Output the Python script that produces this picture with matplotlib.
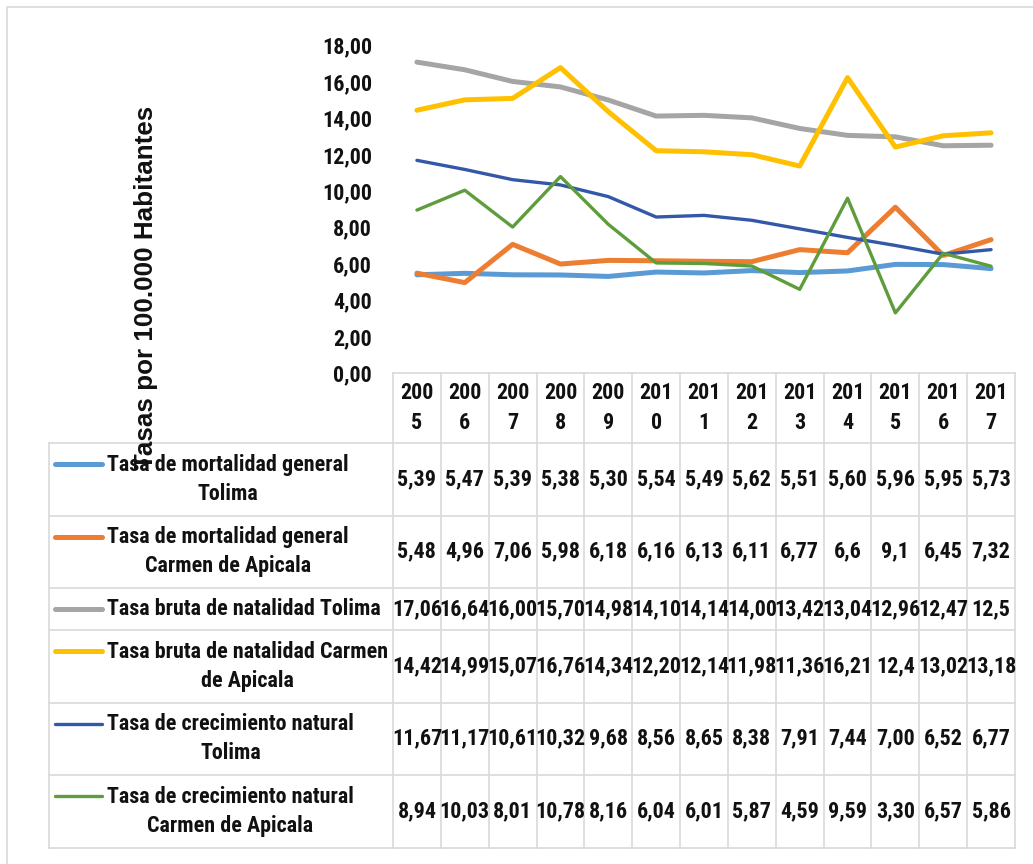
import matplotlib
matplotlib.use("Agg")
import os
import matplotlib.pyplot as plt
from matplotlib.patches import Rectangle
from matplotlib import font_manager as fm

years = ["2005", "2006", "2007", "2008", "2009", "2010", "2011",
         "2012", "2013", "2014", "2015", "2016", "2017"]

series_names = [
    "Tasa de mortalidad general\nTolima",
    "Tasa de mortalidad general\nCarmen de Apicala",
    "Tasa bruta de natalidad Tolima",
    "Tasa bruta de natalidad Carmen\nde Apicala",
    "Tasa de crecimiento natural\nTolima",
    "Tasa de crecimiento natural\nCarmen de Apicala",
]

mort_tolima = [5.39, 5.47, 5.39, 5.38, 5.30, 5.54, 5.49, 5.62, 5.51, 5.60, 5.96, 5.95, 5.73]
mort_carmen = [5.48, 4.96, 7.06, 5.98, 6.18, 6.16, 6.13, 6.11, 6.77, 6.6, 9.1, 6.45, 7.32]
nat_tolima = [17.06, 16.64, 16.00, 15.70, 14.98, 14.10, 14.14, 14.00, 13.42, 13.04, 12.96, 12.47, 12.5]
nat_carmen = [14.42, 14.99, 15.07, 16.76, 14.34, 12.20, 12.14, 11.98, 11.36, 16.21, 12.4, 13.02, 13.18]
crec_tolima = [11.67, 11.17, 10.61, 10.32, 9.68, 8.56, 8.65, 8.38, 7.91, 7.44, 7.00, 6.52, 6.77]
crec_carmen = [8.94, 10.03, 8.01, 10.78, 8.16, 6.04, 6.01, 5.87, 4.59, 9.59, 3.30, 6.57, 5.86]

# table texts as shown (Excel formatting)
table_text = [
    ["5,39", "5,47", "5,39", "5,38", "5,30", "5,54", "5,49", "5,62", "5,51", "5,60", "5,96", "5,95", "5,73"],
    ["5,48", "4,96", "7,06", "5,98", "6,18", "6,16", "6,13", "6,11", "6,77", "6,6", "9,1", "6,45", "7,32"],
    ["17,06", "16,64", "16,00", "15,70", "14,98", "14,10", "14,14", "14,00", "13,42", "13,04", "12,96", "12,47", "12,5"],
    ["14,42", "14,99", "15,07", "16,76", "14,34", "12,20", "12,14", "11,98", "11,36", "16,21", "12,4", "13,02", "13,18"],
    ["11,67", "11,17", "10,61", "10,32", "9,68", "8,56", "8,65", "8,38", "7,91", "7,44", "7,00", "6,52", "6,77"],
    ["8,94", "10,03", "8,01", "10,78", "8,16", "6,04", "6,01", "5,87", "4,59", "9,59", "3,30", "6,57", "5,86"],
]

y_ticks = [0, 2, 4, 6, 8, 10, 12, 14, 16, 18]
y_label = "Tasas por 100.000 Habitantes"

colors = ["#5B9BD5", "#ED7D31", "#A5A5A5", "#FFC000", "#3358A8", "#5E9C3C"]
widths = [3.6, 3.6, 3.6, 3.6, 2.4, 2.4]

# ---- font choice: prefer a narrow / condensed bold sans
def pick_font():
    files = [f.fname for f in fm.fontManager.ttflist]
    prefs = ["liberationsansnarrow-bold.", "arialnarrow-bold", "arial narrow bold",
             "robotocondensed-bold.", "notosans-condensedbold.", "opensans-condensedbold.",
             "opensans_condensed-bold.", "opensanscondensed-bold.", "notosans-semicondensedbold.",
             "opensans-semicondensedbold."]
    low = {os.path.basename(p).lower(): p for p in files}
    for pr in prefs:
        for b, p in low.items():
            if b.startswith(pr):
                return fm.FontProperties(fname=p)
    for b, p in low.items():
        if ("condensed" in b or "narrow" in b) and "bold" in b and "semi" not in b \
                and "extra" not in b and "italic" not in b and "mono" not in b and "serif" not in b:
            return fm.FontProperties(fname=p)
    return fm.FontProperties(family=["Liberation Sans", "DejaVu Sans"], weight="bold")

def pick_wide_bold():
    for fam in ["Liberation Sans", "Arimo", "Roboto", "Open Sans", "Noto Sans", "DejaVu Sans"]:
        best = None
        for f in fm.fontManager.ttflist:
            if f.name != fam or f.style != "normal" or str(f.stretch) not in ("normal", "400"):
                continue
            w = f.weight if isinstance(f.weight, int) else fm.weight_dict.get(str(f.weight), 400)
            if w >= 700 and (best is None or abs(w - 700) < best[0]):
                best = (abs(w - 700), f.fname)
        if best:
            return fm.FontProperties(fname=best[1])
    return fm.FontProperties(family=["Liberation Sans", "DejaVu Sans"], weight="bold")

base_fp = pick_font()
label_fp = pick_wide_bold()

W, H = 1033, 864
fig = plt.figure(figsize=(W / 100, H / 100), dpi=100)
fig.patch.set_facecolor("white")
renderer = fig.canvas.get_renderer()

def calib(sample, target_px, fp):
    p = fp.copy()
    p.set_size(20)
    t = fig.text(0, 0, sample, fontproperties=p)
    w = t.get_window_extent(renderer=renderer).width
    t.remove()
    return 20 * target_px / w

FS = min(calib("Tasa de mortalidad general", 240, base_fp), 17.5)
TFP = base_fp.copy()
TFP.set_size(FS)
label_fp.set_size(min(calib(y_label, 362, label_fp), 20))

# outer chart border (only left/top visible in the crop)
fig.add_artist(Rectangle((7 / W, -0.05), 1.1, 1 - 7 / H + 0.05, transform=fig.transFigure,
                         fill=False, edgecolor="#D9D9D9", linewidth=1.2))

# geometry in pixels
PL, PR, PT, PB = 393, 1015, 45, 373
TL, TB = 49, 849
ncol = len(years)
colw = (PR - PL) / ncol

ax = fig.add_axes([PL / W, 1 - PB / H, (PR - PL) / W, (PB - PT) / H])
xs = list(range(ncol))
data = [mort_tolima, mort_carmen, nat_tolima, nat_carmen, crec_tolima, crec_carmen]
for i, (vals, c, lw) in enumerate(zip(data, colors, widths)):
    ax.plot(xs, vals, color=c, lw=lw, solid_joinstyle="round", solid_capstyle="round", zorder=3 + i)
ax.set_xlim(-0.5, ncol - 0.5)
ax.set_ylim(0, 18)
ax.set_yticks(y_ticks)
ax.set_yticklabels([f"{v:.2f}".replace(".", ",") for v in y_ticks], fontproperties=TFP, color="#111111")
ax.tick_params(axis="y", length=0, pad=15)
ax.set_xticks([])
for s in ax.spines.values():
    s.set_visible(False)
ax.patch.set_alpha(0)

# table axes (x in same column units as plot; y in pixels from table top)
tx0 = -0.5 - (PL - TL) / colw
tax = fig.add_axes([TL / W, 1 - TB / H, (PR - TL) / W, (TB - PB) / H])
tax.set_xlim(tx0, ncol - 0.5)
tax.set_ylim(TB - PB, 0)
tax.axis("off")

def px2x(px):
    return -0.5 + (px - PL) / colw

grid_c = "#D9D9D9"
header_h = 70
row_h = [72.5 if "\n" in n else 42 for n in series_names]
bounds = [header_h]
for h in row_h:
    bounds.append(bounds[-1] + h)
total = bounds[-1]

tax.plot([-0.5, ncol - 0.5], [0, 0], color=grid_c, lw=1.2, clip_on=False)
for b in bounds:
    tax.plot([tx0, ncol - 0.5], [b, b], color=grid_c, lw=1.2, clip_on=False)
for k in range(ncol + 1):
    tax.plot([k - 0.5, k - 0.5], [0, total], color=grid_c, lw=1.2, clip_on=False)
tax.plot([tx0, tx0], [header_h, total], color=grid_c, lw=1.2, clip_on=False)

# line spacing so two lines sit ~30 px apart
def two_line_gap(ls):
    t = fig.text(0, 0, "Tg\nTg", fontproperties=TFP, linespacing=ls)
    t1 = fig.text(0, 0, "Tg", fontproperties=TFP)
    h2 = t.get_window_extent(renderer=renderer).height
    h1 = t1.get_window_extent(renderer=renderer).height
    t.remove(); t1.remove()
    return h2 - h1

g = two_line_gap(1.2)
LS = 1.2 * 30.5 / g if g > 0 else 1.3

for k, yr in enumerate(years):
    tax.text(k, header_h / 2, yr[:3] + "\n" + yr[3:], ha="center", va="center",
             fontproperties=TFP, linespacing=LS, color="#111111")

for r, name in enumerate(series_names):
    top, bot = bounds[r], bounds[r + 1]
    cy = (top + bot) / 2
    nlines = name.count("\n") + 1
    ky = cy - 15 if nlines == 2 else cy
    tax.plot([px2x(55), px2x(102)], [ky, ky], color=colors[r], lw=widths[r], clip_on=False,
             solid_capstyle="round")
    tax.text(px2x(107), cy, name, ha="left", va="center", multialignment="center",
             fontproperties=TFP, linespacing=LS, color="#111111")
    for k, t in enumerate(table_text[r]):
        tax.text(k, cy, t, ha="center", va="center", fontproperties=TFP, color="#111111")

fig.text(146 / W, 1 - 287 / H, y_label, rotation=90, ha="center", va="center",
         fontproperties=label_fp, color="#111111")

fig.savefig("out.png", dpi=100)
